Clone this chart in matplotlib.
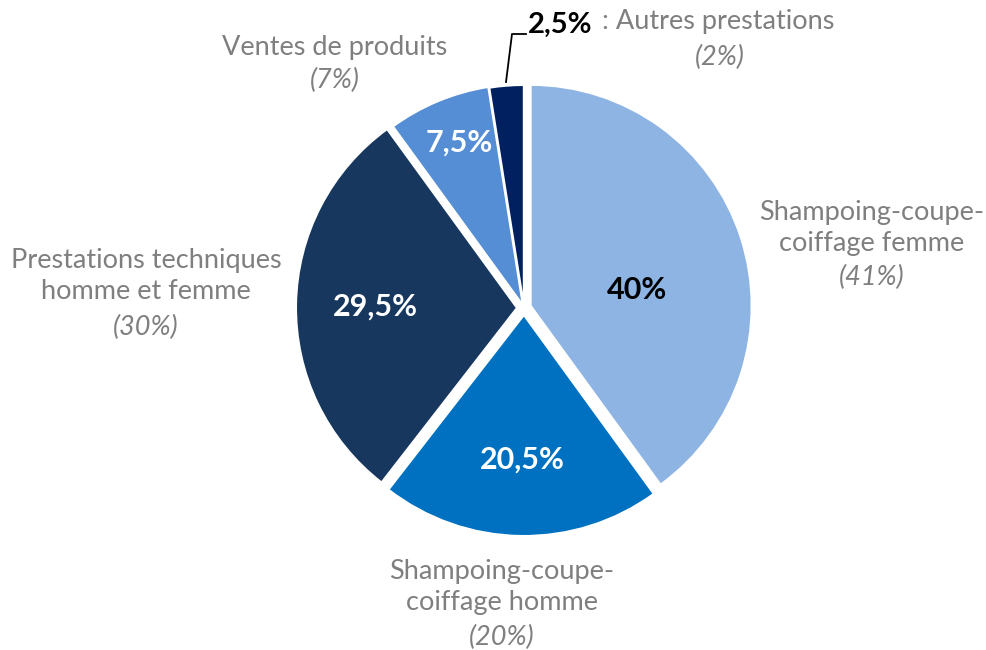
import matplotlib
matplotlib.use("Agg")
import matplotlib.pyplot as plt

# Data
categories = ["Shampoing-coupe-\ncoiffage femme", "Shampoing-coupe-\ncoiffage homme",
              "Prestations techniques\nhomme et femme", "Ventes de produits", ": Autres prestations"]
values = [40, 20.5, 29.5, 7.5, 2.5]
value_labels = ["40%", "20,5%", "29,5%", "7,5%", "2,5%"]
prev_labels = ["(41%)", "(20%)", "(30%)", "(7%)", "(2%)"]
colors = ["#8EB4E3", "#0070C0", "#17375E", "#558ED5", "#002060"]

W, H = 986, 650
fig = plt.figure(figsize=(W / 100, H / 100), dpi=100)
ax = fig.add_axes([0, 0, 1, 1])

def Y(y):
    return H - y

cx, cy, R = 524, 308, 221
ax.pie(values, colors=colors, startangle=90, counterclock=False,
       center=(cx, Y(cy)), radius=R, explode=[7, 7, 7, 3, 2],
       wedgeprops=dict(edgecolor="white", linewidth=1.5), frame=True)
ax.set_xlim(0, W)
ax.set_ylim(0, H)
ax.set_aspect("equal")
ax.axis("off")

FONT = ["Lato", "DejaVu Sans"]
GRAY = "#7F7F7F"
fs = 19.5
fb = 22

# inner value labels
inner_pos = [(637, 290), (522, 460), (375, 307), (459, 143)]
inner_col = ["black", "white", "white", "white"]
for (x, y), lab, c in zip(inner_pos, value_labels[:4], inner_col):
    ax.text(x, Y(y), lab, ha="center", va="center", fontsize=fb, fontweight="bold",
            color=c, family=FONT)

# outside category labels
outer = [
    (872, 228, 277),
    (502, 587, 637),
    (146, 276, 327),
    (335, 47, 80),
]
for (x, y, yp), cat, prev in zip(outer, categories[:4], prev_labels[:4]):
    ax.text(x, Y(y), cat, ha="center", va="center", fontsize=fs, color=GRAY,
            family=FONT, linespacing=1.3)
    ax.text(x, Y(yp), prev, ha="center", va="center", fontsize=fs, color=GRAY,
            family=FONT, style="italic")

# small slice: leader line and labels
ax.plot([506, 512, 526], [Y(82), Y(34), Y(34)], color="black", lw=1.3)
ax.text(528, Y(25), value_labels[4], ha="left", va="center", fontsize=21,
        fontweight="bold", color="black", family=FONT)
ax.text(602, Y(22), categories[4], ha="left", va="center", fontsize=fs,
        color=GRAY, family=FONT)
ax.text(720, Y(57), prev_labels[4], ha="center", va="center", fontsize=fs,
        color=GRAY, family=FONT, style="italic")

fig.savefig("out.png", dpi=100, facecolor="white")
